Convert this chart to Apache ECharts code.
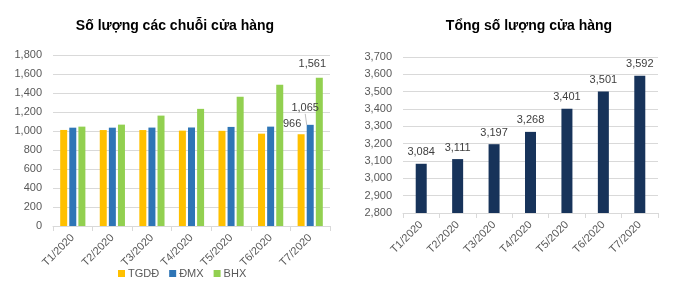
<!DOCTYPE html>
<html><head><meta charset="utf-8">
<script src="https://cdn.jsdelivr.net/npm/echarts@6/dist/echarts.min.js"></script>
<style>html,body{margin:0;padding:0;background:#fff}#c{width:680px;height:284px}</style>
</head><body><div id="c"></div>
<script>
const categories = ['T1/2020','T2/2020','T3/2020','T4/2020','T5/2020','T6/2020','T7/2020'];
const tgdd = [1011, 1010, 1010, 1004, 1002, 972, 966];
const dmx = [1035, 1035, 1036, 1037, 1043, 1046, 1065];
const bhx = [1046, 1067, 1162, 1233, 1360, 1487, 1561];
const total = [3084, 3111, 3197, 3268, 3401, 3501, 3592];
const leftTicks = {min: 0, max: 1800, interval: 200};
const rightTicks = {min: 2800, max: 3700, interval: 100};

const FONT = 'Liberation Sans, Arial, sans-serif';
const GRAY = '#595959';
const fmt = v => v.toLocaleString('en-US');

function lastLabeled(arr, labelOpt) {
  return arr.map((v, i) => i === arr.length - 1 ? {value: v, label: Object.assign({show: true}, labelOpt)} : v);
}
const dlStyle = {color: '#404040', fontSize: 11, fontFamily: FONT, formatter: p => fmt(p.value)};

const chart = echarts.init(document.getElementById('c'), null, {renderer: 'canvas'});
const xAxisCommon = {
  type: 'category', data: categories,
  axisLine: {lineStyle: {color: '#d9d9d9'}},
  axisTick: {show: true, length: 5, lineStyle: {color: '#d9d9d9'}},
  axisLabel: {rotate: 45, color: GRAY, fontSize: 11, fontFamily: FONT, margin: 10}
};
const yAxisCommon = {
  type: 'value',
  axisLine: {show: false}, axisTick: {show: false},
  splitLine: {lineStyle: {color: '#d9d9d9'}},
  axisLabel: {color: GRAY, fontSize: 11, fontFamily: FONT, formatter: v => fmt(v), margin: 11}
};
chart.setOption({
  animation: false,
  title: [
    {text: 'Số lượng các chuỗi cửa hàng', left: 170, textAlign: 'center', top: 14,
     textStyle: {fontSize: 14, fontWeight: 'bold', color: '#000', fontFamily: FONT}},
    {text: 'Tổng số lượng cửa hàng', left: 524, textAlign: 'center', top: 14,
     textStyle: {fontSize: 14, fontWeight: 'bold', color: '#000', fontFamily: FONT}}
  ],
  legend: {
    left: 113, top: 263, itemWidth: 7, itemHeight: 7, itemGap: 10,
    icon: 'rect',
    textStyle: {color: GRAY, fontSize: 11, fontFamily: FONT, padding: [0, 0, 0, -2]},
    data: ['TGDĐ', 'ĐMX', 'BHX']
  },
  grid: [
    {left: 53, right: 350, top: 55, bottom: 58},
    {left: 403, right: 22, top: 57, bottom: 71}
  ],
  xAxis: [
    Object.assign({gridIndex: 0}, xAxisCommon),
    Object.assign({gridIndex: 1}, xAxisCommon)
  ],
  yAxis: [
    Object.assign({gridIndex: 0}, yAxisCommon, leftTicks),
    Object.assign({gridIndex: 1}, yAxisCommon, rightTicks)
  ],
  series: [
    {name: 'TGDĐ', type: 'bar', xAxisIndex: 0, yAxisIndex: 0, barWidth: 7, barGap: '30%',
     itemStyle: {color: '#FFC000'},
     data: lastLabeled(tgdd, Object.assign({position: 'top', offset: [-9, 0]}, dlStyle))},
    {name: 'ĐMX', type: 'bar', xAxisIndex: 0, yAxisIndex: 0, barWidth: 7, barGap: '30%',
     itemStyle: {color: '#2E75B6'},
     labelLine: {show: true, lineStyle: {color: '#bfbfbf', width: 1}},
     labelLayout: p => p.dataIndex === 6 ? {dx: -5, dy: -6} : {},
     data: lastLabeled(dmx, Object.assign({position: 'top'}, dlStyle))},
    {name: 'BHX', type: 'bar', xAxisIndex: 0, yAxisIndex: 0, barWidth: 7, barGap: '30%',
     itemStyle: {color: '#92D050'},
     data: lastLabeled(bhx, Object.assign({position: 'top', offset: [-7, -3]}, dlStyle))},
    {name: 'Tổng', type: 'bar', xAxisIndex: 1, yAxisIndex: 1, barWidth: 11,
     itemStyle: {color: '#17335A'},
     label: Object.assign({show: true, position: 'top', distance: 6}, dlStyle),
     data: total}
  ]
});
</script></body></html>
